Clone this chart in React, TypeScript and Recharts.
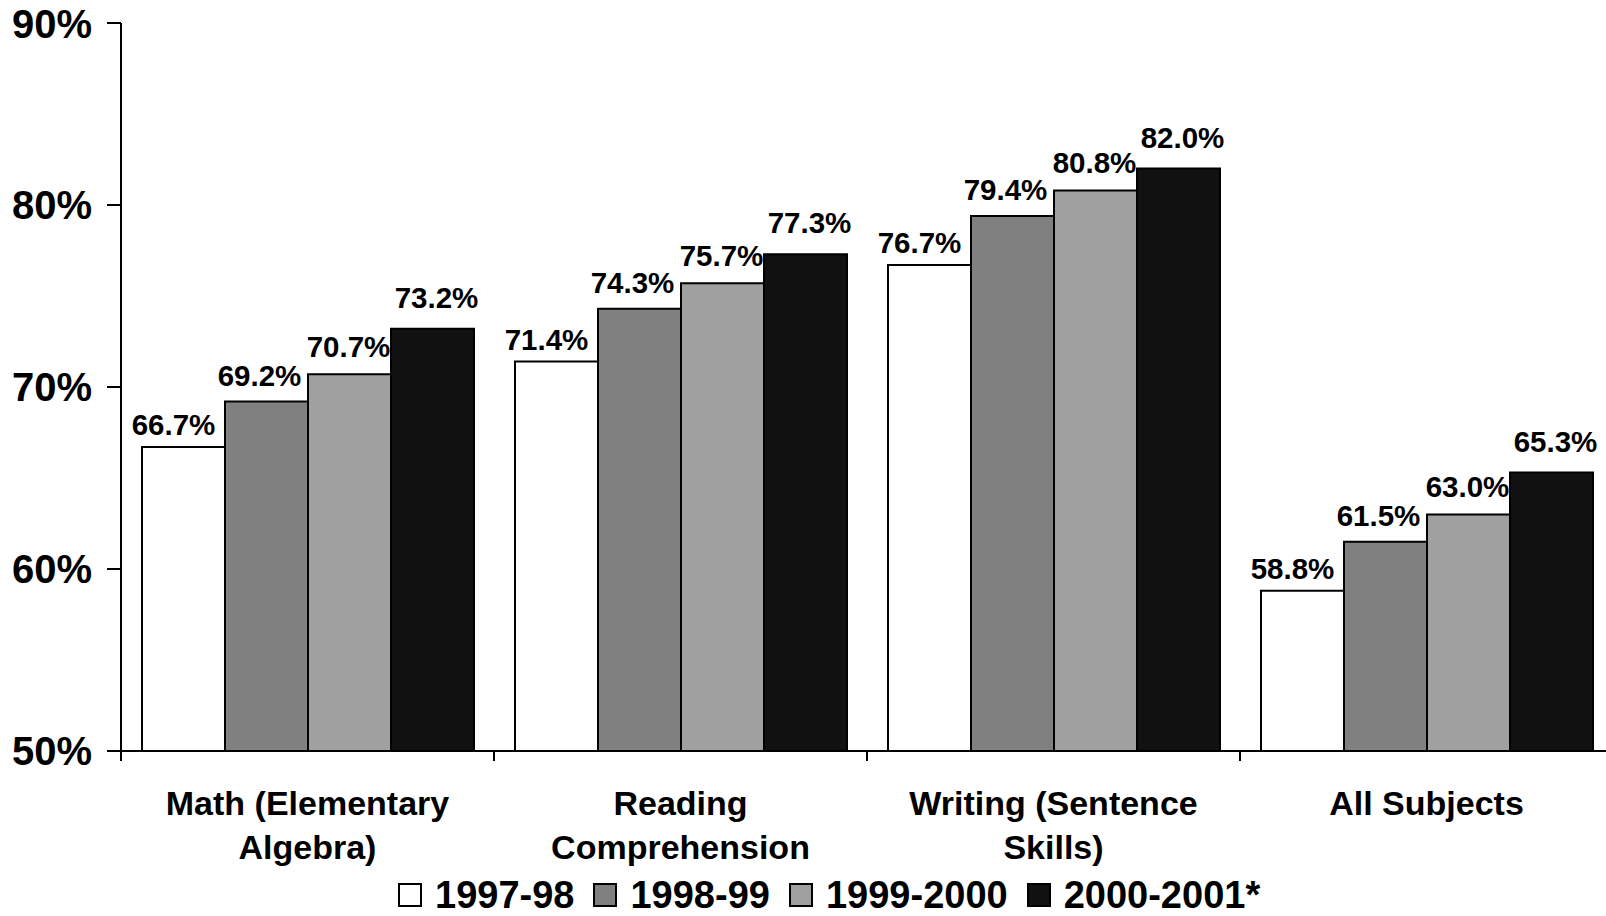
import React from 'react';
import { BarChart, Bar, XAxis, YAxis, LabelList } from 'recharts';

// Percent of students by subject and school year
const categories = ['Math (Elementary Algebra)', 'Reading Comprehension', 'Writing (Sentence Skills)', 'All Subjects'];
const categoryLines = [['Math (Elementary', 'Algebra)'], ['Reading', 'Comprehension'], ['Writing (Sentence', 'Skills)'], ['All Subjects']];
const years = ['1997-98', '1998-99', '1999-2000', '2000-2001*'];
const y1997 = [66.7, 71.4, 76.7, 58.8];
const y1998 = [69.2, 74.3, 79.4, 61.5];
const y1999 = [70.7, 75.7, 80.8, 63.0];
const y2000 = [73.2, 77.3, 82.0, 65.3];
const yTicks = [50, 60, 70, 80, 90];

const seriesKeys = ['y1997', 'y1998', 'y1999', 'y2000'];
const fills = ['#ffffff', '#808080', '#a0a0a0', '#111111'];

const chartData = categories.map((name, i) => ({
    name,
    y1997: y1997[i],
    y1998: y1998[i],
    y1999: y1999[i],
    y2000: y2000[i],
}));

const FONT = "'Liberation Sans', Arial, Helvetica, sans-serif";
const CHART_W = 1630;
const CHART_H = 916;
const Y_AXIS_W = 121;
const RIGHT = 17;
const X_AXIS_H = 165;
const PLOT_W = CHART_W - Y_AXIS_W - RIGHT;
const HALF_BAND = PLOT_W / categories.length / 2;
const AXIS_Y = CHART_H - X_AXIS_H;

const CategoryTick = (props: any) => {
    const { x, payload, index } = props;
    const lines = categoryLines[index] || [payload.value];
    return (
        <g>
            <line x1={x - HALF_BAND} x2={x - HALF_BAND} y1={AXIS_Y} y2={AXIS_Y + 10} stroke="#000" strokeWidth={2} />
            {index === categories.length - 1 && (
                <line x1={x + HALF_BAND} x2={x + HALF_BAND} y1={AXIS_Y} y2={AXIS_Y + 10} stroke="#000" strokeWidth={2} />
            )}
            {lines.map((line: string, i: number) => (
                <text key={i} x={x} y={AXIS_Y + 64 + i * 44} textAnchor="middle" fontFamily={FONT} fontWeight="bold" fontSize={34} fill="#000">
                    {line}
                </text>
            ))}
        </g>
    );
};

const labelNudge = [
    { dx: -10, offset: 12 },
    { dx: -7, offset: 16 },
    { dx: -1, offset: 17 },
    { dx: 4, offset: 21 },
];

export default function App() {
    return (
        <div style={{ position: 'absolute', left: 0, top: 0, width: 1606, height: 916, overflow: 'hidden', background: '#fff' }}>
            <BarChart
                width={CHART_W}
                height={CHART_H}
                data={chartData}
                margin={{ top: 23, right: RIGHT, left: 0, bottom: 0 }}
                barCategoryGap={21}
                barGap={0}
            >
                <XAxis
                    dataKey="name"
                    height={X_AXIS_H}
                    interval={0}
                    tickLine={false}
                    axisLine={{ stroke: '#000', strokeWidth: 2 }}
                    tick={<CategoryTick />}
                />
                <YAxis
                    width={Y_AXIS_W}
                    domain={[50, 90]}
                    ticks={yTicks}
                    allowDataOverflow
                    tickFormatter={(v: number) => `${v}%`}
                    axisLine={{ stroke: '#000', strokeWidth: 2 }}
                    tickLine={{ stroke: '#000', strokeWidth: 2 }}
                    tickSize={14}
                    tickMargin={15}
                    tick={{ fill: '#000', fontSize: 40, fontWeight: 'bold', fontFamily: FONT }}
                />
                {seriesKeys.map((key, i) => (
                    <Bar key={key} dataKey={key} name={years[i]} fill={fills[i]} stroke="#000" strokeWidth={2} isAnimationActive={false}>
                        <LabelList
                            dataKey={key}
                            position="top"
                            offset={labelNudge[i].offset}
                            dx={labelNudge[i].dx}
                            formatter={(v: any) => `${Number(v).toFixed(1)}%`}
                            fill="#000"
                            fontSize={29.5}
                            fontWeight="bold"
                            fontFamily={FONT}
                        />
                    </Bar>
                ))}
            </BarChart>
            <div
                style={{
                    position: 'absolute',
                    left: 398,
                    top: 876,
                    display: 'flex',
                    alignItems: 'center',
                    fontFamily: FONT,
                    fontWeight: 'bold',
                    fontSize: 38,
                    lineHeight: '38px',
                    whiteSpace: 'nowrap',
                }}
            >
                {years.map((year, i) => (
                    <div key={year} style={{ display: 'flex', alignItems: 'center', marginRight: 19 }}>
                        <span style={{ display: 'inline-block', width: 20, height: 20, background: fills[i], border: '2px solid #000', marginRight: 13 }} />
                        <span>{year}</span>
                    </div>
                ))}
            </div>
        </div>
    );
}
